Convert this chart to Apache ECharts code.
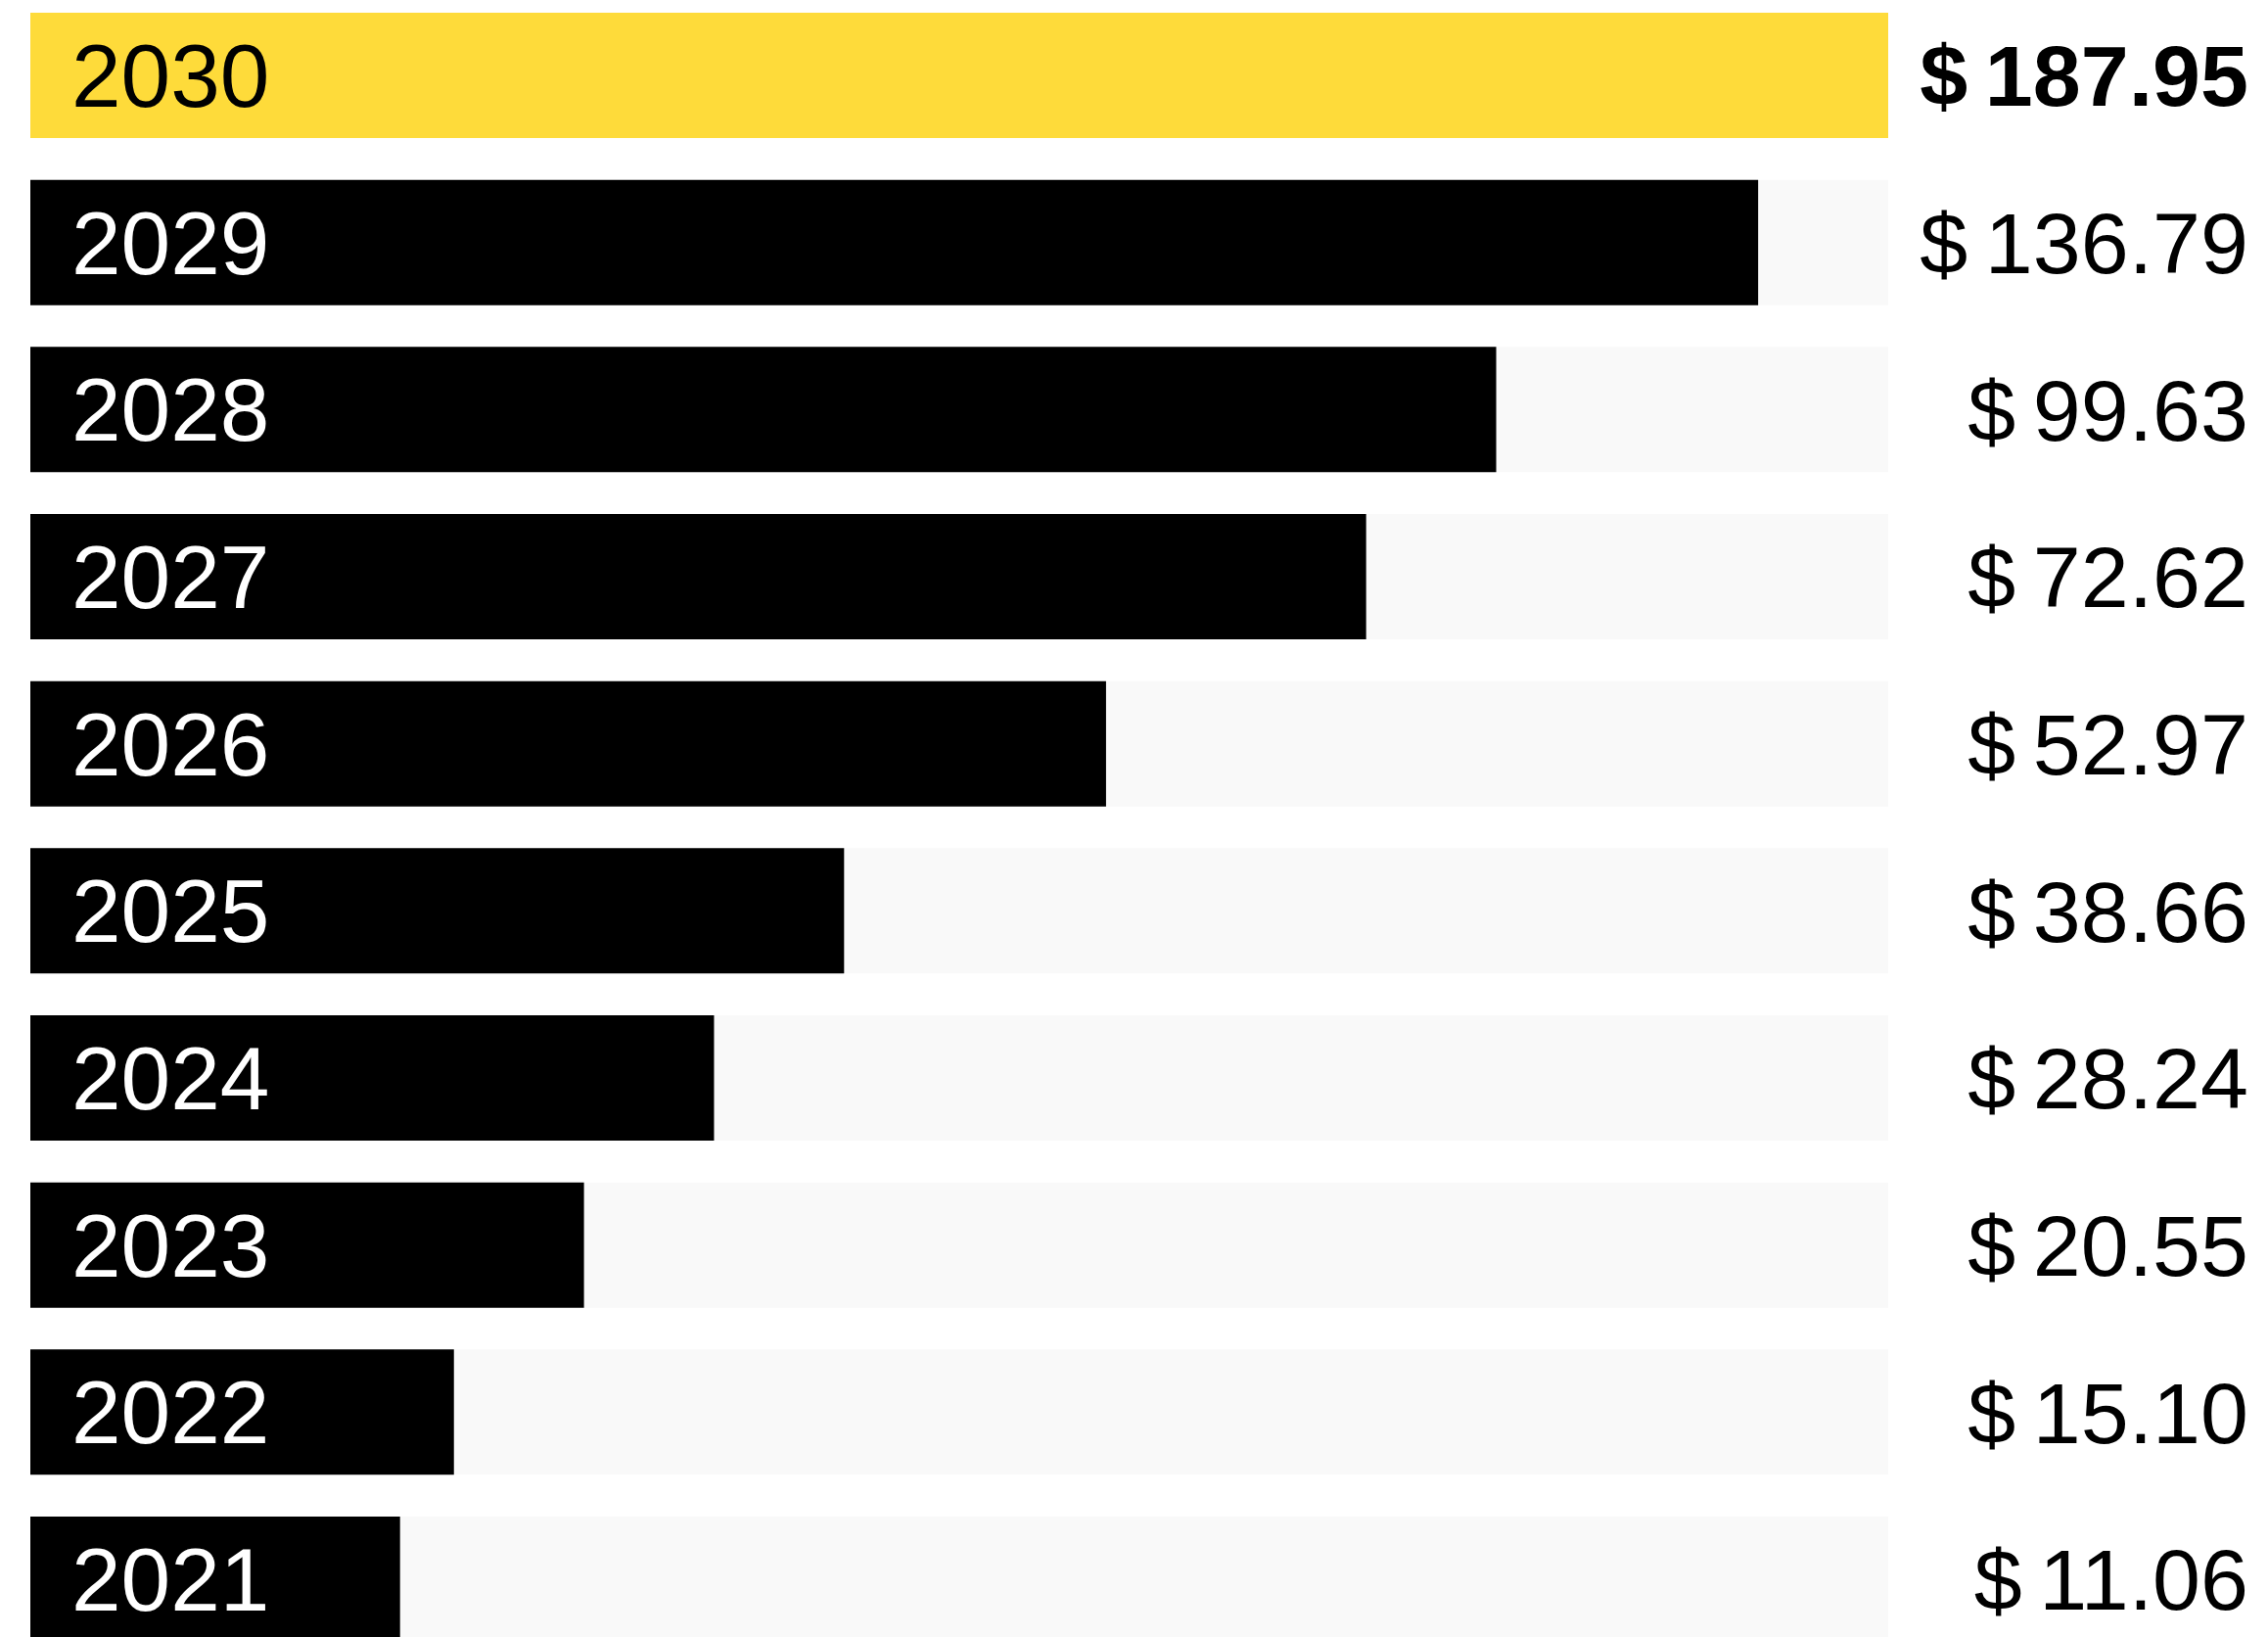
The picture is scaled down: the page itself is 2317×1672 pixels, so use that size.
<!DOCTYPE html>
<html>
<head>
<meta charset="utf-8">
<title>Market size by year</title>
<script src="https://cdn.jsdelivr.net/npm/echarts@6/dist/echarts.min.js"></script>
<style>
  html, body { margin: 0; padding: 0; background: #ffffff; overflow: hidden; }
  body { width: 2317px; height: 1672px; position: relative; }
  /* the last row runs past the bottom edge, so the canvas is taller than the page */
  #chart { position: absolute; left: 0; top: -9px; width: 2317px; height: 1720px; }
</style>
</head>
<body>
<div id="chart"></div>
<script>
// Years, top to bottom
const years = ['2030', '2029', '2028', '2027', '2026', '2025', '2024', '2023', '2022', '2021'];
// Market size in billions of dollars, shown in the right-hand column
const marketSize = [187.95, 136.79, 99.63, 72.62, 52.97, 38.66, 28.24, 20.55, 15.10, 11.06];
// Bar length as a share of the full track (percent), stepped rather than linear
const barShare = [100, 93.0, 78.9, 71.9, 57.9, 43.8, 36.8, 29.8, 22.8, 19.9];

const HIGHLIGHT = '#FEDB3A';
const FONT = '"Liberation Sans", Arial, Helvetica, sans-serif';

const chart = echarts.init(document.getElementById('chart'), null, { renderer: 'canvas' });

const barData = barShare.map((v, i) => ({
  value: v,
  itemStyle: { color: i === 0 ? HIGHLIGHT : '#000000' },
  label: { color: i === 0 ? '#000000' : '#ffffff' }
}));

chart.setOption({
  animation: false,
  backgroundColor: '#ffffff',
  grid: { left: 31, width: 1898, top: 0.67, height: 1706.7, containLabel: false },
  xAxis: { type: 'value', min: 0, max: 100, show: false },
  yAxis: [
    {
      type: 'category',
      data: years,
      inverse: true,
      axisLine: { show: false },
      axisTick: { show: false },
      axisLabel: { show: false },
      splitLine: { show: false }
    },
    {
      type: 'category',
      data: years,
      inverse: true,
      position: 'right',
      axisLine: { show: false },
      axisTick: { show: false },
      splitLine: { show: false },
      axisLabel: {
        margin: 368,
        align: 'right',
        verticalAlign: 'middle',
        padding: [14, 0, 0, 0],
        fontFamily: FONT,
        fontSize: 88,
        color: '#000000',
        formatter: (value, index) => {
          const text = '$\u2009' + marketSize[index].toFixed(2);
          return index === 0 ? '{b|' + text + '}' : '{n|' + text + '}';
        },
        rich: {
          b: { fontFamily: FONT, fontSize: 88, fontWeight: 'bold', color: '#000000' },
          n: { fontFamily: FONT, fontSize: 88, fontWeight: 'normal', color: '#000000' }
        }
      }
    }
  ],
  series: [
    {
      type: 'bar',
      yAxisIndex: 0,
      data: barData,
      barWidth: 128,
      showBackground: true,
      backgroundStyle: { color: '#F9F9F9' },
      label: {
        show: true,
        position: 'insideLeft',
        distance: 42,
        offset: [0, 7],
        fontFamily: FONT,
        fontSize: 91,
        fontWeight: 'normal',
        formatter: (p) => years[p.dataIndex]
      }
    }
  ]
});
</script>
</body>
</html>
